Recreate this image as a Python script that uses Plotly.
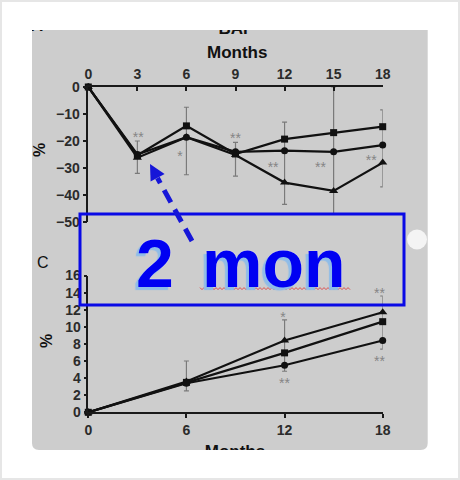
import plotly.graph_objects as go

W, H = 460, 480

# ---------------- data ----------------
months_a = [0, 3, 6, 9, 12, 15, 18]
bap_square = [0, -25.3, -14.4, -24.8, -19.3, -16.9, -14.7]
bap_circle = [0, -25.0, -18.6, -24.0, -23.6, -24.0, -21.5]
bap_triangle = [0, -26.2, -18.6, -25.2, -35.4, -38.5, -28.0]

err_months_a = [3, 6, 9, 12, 15, 18]
err_hi_a = [-20.0, -7.5, -20.5, -13.0, 0.0, -8.5]
err_lo_a = [-32.0, -32.5, -33.0, -43.5, -47.0, -37.0]

star_a_x = [3.05, 5.6, 9.0, 11.3, 14.2, 17.3]
star_a_y = [-19.2, -26.1, -19.6, -30.3, -30.3, -27.6]
star_a_txt = ["**", "*", "**", "**", "**", "**"]

months_c = [0, 6, 12, 18]
c_triangle = [0, 3.6, 8.4, 11.7]
c_square = [0, 3.5, 6.95, 10.6]
c_circle = [0, 3.4, 5.5, 8.4]

err_months_c = [6, 12, 18]
err_hi_c = [6.0, 10.8, 13.6]
err_lo_c = [2.5, 4.8, 7.4]

star_c_x = [11.9, 12.0, 17.8, 18.5, 17.8]
star_c_y = [11.0, 3.2, 13.8, 9.6, 5.8]
star_c_txt = ["*", "**", "**", "*", "**"]

ticks_a_x = [0, 3, 6, 9, 12, 15, 18]
ticks_a_y = [0, -10, -20, -30, -40, -50]
ticks_c_x = [0, 6, 12, 18]
ticks_c_y = [0, 2, 4, 6, 8, 10, 12, 14, 16]

FONT = "Liberation Sans, Arial, sans-serif"


def px(x):
    return x / W


def py(y):
    return 1 - y / H


fig = go.Figure()

line_style = dict(color="#111111", width=2.2)


def add_series(xs, ys, symbol, size, xa, ya):
    fig.add_trace(go.Scatter(
        x=xs, y=ys, mode="lines+markers", xaxis=xa, yaxis=ya,
        line=line_style, cliponaxis=False,
        marker=dict(symbol=symbol, size=size, color="#111111"),
        showlegend=False, hoverinfo="skip"))


def add_err(xs, hi, lo, xa, ya):
    fig.add_trace(go.Scatter(
        x=xs, y=hi, mode="markers", xaxis=xa, yaxis=ya,
        marker=dict(size=1, color="rgba(0,0,0,0)"), cliponaxis=False,
        error_y=dict(type="data", symmetric=False,
                     array=[0] * len(xs),
                     arrayminus=[h - l for h, l in zip(hi, lo)],
                     color="#7a7a7a", thickness=1.2, width=2.5),
        showlegend=False, hoverinfo="skip"))


def add_stars(xs, ys, txt, xa, ya):
    fig.add_trace(go.Scatter(
        x=xs, y=ys, text=txt, mode="text", xaxis=xa, yaxis=ya,
        textfont=dict(family=FONT, size=14, color="#858585"),
        cliponaxis=False, showlegend=False, hoverinfo="skip"))


# upper chart (BAP)
add_err(err_months_a, err_hi_a, err_lo_a, "x", "y")
add_series(months_a, bap_square, "square", 7, "x", "y")
add_series(months_a, bap_circle, "circle", 7, "x", "y")
add_series(months_a, bap_triangle, "triangle-up", 8, "x", "y")
add_stars(star_a_x, star_a_y, star_a_txt, "x", "y")

# lower chart
add_err(err_months_c, err_hi_c, err_lo_c, "x2", "y2")
add_series(months_c, c_triangle, "triangle-up", 8, "x2", "y2")
add_series(months_c, c_square, "square", 7, "x2", "y2")
add_series(months_c, c_circle, "circle", 7, "x2", "y2")
add_stars(star_c_x, star_c_y, star_c_txt, "x2", "y2")

# clipped titles at the slide edges
fig.add_trace(go.Scatter(
    x=[236.5, 235, 37], y=[29.5, 452.5, 26.5], text=["BAP", "Months", "A"],
    mode="text", xaxis="x3", yaxis="y3", cliponaxis=True,
    textfont=dict(family=FONT, size=17, color="#111111", weight="bold"),
    showlegend=False, hoverinfo="skip"))

tickfont = dict(family=FONT, size=14, color="#2b2b2b", weight="bold")
xdom = [px(88.3), px(382.7)]

common_axis = dict(showgrid=False, zeroline=False, showline=True,
                   linecolor="#1a1a1a", tickcolor="#1a1a1a",
                   tickfont=tickfont, automargin=False, fixedrange=True)

fig.update_layout(
    width=W, height=H, template="none",
    margin=dict(l=0, r=0, t=0, b=0, pad=0),
    paper_bgcolor="white", plot_bgcolor="rgba(0,0,0,0)",
    xaxis=dict(domain=xdom, range=[0, 18], anchor="y", side="top",
               tickmode="array", tickvals=ticks_a_x, ticks="inside",
               ticklen=4, tickwidth=2, linewidth=2, **common_axis),
    yaxis=dict(domain=[py(222), py(87)], range=[-50, 0], anchor="x",
               tickmode="array", tickvals=ticks_a_y, ticks="outside",
               ticklen=4, tickwidth=1.5, linewidth=1.5, **common_axis),
    xaxis2=dict(domain=xdom, range=[0, 18], anchor="y2",
                tickmode="array", tickvals=ticks_c_x, ticks="outside",
                ticklen=4, tickwidth=2, linewidth=2, **common_axis),
    yaxis2=dict(domain=[py(412.3), py(275.5)], range=[0, 16], anchor="x2",
                tickmode="array", tickvals=ticks_c_y, ticks="outside",
                ticklen=3, tickwidth=1.5, linewidth=1.5, **common_axis),
    xaxis3=dict(domain=[px(32), px(427.7)], range=[32, 427.7],
                anchor="y3", visible=False, fixedrange=True),
    yaxis3=dict(domain=[py(450), py(30)], range=[450, 30],
                anchor="x3", visible=False, fixedrange=True),
)

# ---------------- shapes ----------------
shapes = []
# outer frame
shapes.append(dict(type="rect", xref="paper", yref="paper", layer="below",
                   x0=0, x1=1, y0=0, y1=1, fillcolor="#e6e6e6", line_width=0))
shapes.append(dict(type="rect", xref="paper", yref="paper", layer="below",
                   x0=px(2), x1=px(458), y0=py(478), y1=py(2),
                   fillcolor="white", line_width=0))
# slide panel with rounded bottom corners
r = 7
L, R, T, B = 32, 427.7, 30, 450
panel = (f"M {px(L)},{py(T)} L {px(R)},{py(T)} L {px(R)},{py(B - r)} "
         f"Q {px(R)},{py(B)} {px(R - r)},{py(B)} L {px(L + r)},{py(B)} "
         f"Q {px(L)},{py(B)} {px(L)},{py(B - r)} Z")
shapes.append(dict(type="path", path=panel, xref="paper", yref="paper",
                   layer="below", fillcolor="#cdcdcd", line_width=0))
# blue box
shapes.append(dict(type="rect", xref="paper", yref="paper", layer="above",
                   x0=px(80), x1=px(404), y0=py(305), y1=py(214),
                   line=dict(color="#0a0ae6", width=3), fillcolor="rgba(0,0,0,0)"))
# dashed arrow
shapes.append(dict(type="line", xref="paper", yref="paper", layer="above",
                   x0=px(192), y0=py(241), x1=px(157.5), y1=py(178),
                   line=dict(color="#1616d8", width=5, dash="14px,8px")))
tip = (150, 164)
c1 = (164.6, 173.9)
c2 = (150.6, 181.5)
head = (f"M {px(tip[0])},{py(tip[1])} L {px(c1[0])},{py(c1[1])} "
        f"L {px(c2[0])},{py(c2[1])} Z")
shapes.append(dict(type="path", path=head, xref="paper", yref="paper",
                   layer="above", fillcolor="#1616d8", line_width=0))
# white handle circle
shapes.append(dict(type="circle", xref="paper", yref="paper", layer="above",
                   x0=px(407), x1=px(427), y0=py(249.5), y1=py(229.5),
                   fillcolor="#f4f4f4", line_width=0))
# red spell-check squiggle under "mon"
pts = []
xw = 200
k = 0
while xw <= 350:
    pts.append((xw, 287.6 if k % 2 == 0 else 289.6))
    xw += 2
    k += 1
sq = "M " + " L ".join(f"{px(a)},{py(b)}" for a, b in pts)
shapes.append(dict(type="path", path=sq, xref="paper", yref="paper",
                   layer="above", line=dict(color="#e03030", width=0.8)))
fig.update_layout(shapes=shapes)

# ---------------- annotations ----------------
ann = []
ann.append(dict(text="Months", x=px(236.7), y=py(53), xref="paper", yref="paper",
                showarrow=False, xanchor="center", yanchor="middle",
                font=dict(family=FONT, size=17, color="#111111", weight="bold")))
ann.append(dict(text="%", x=px(39), y=py(150), xref="paper", yref="paper",
                showarrow=False, textangle=-90, xanchor="center", yanchor="middle",
                font=dict(family=FONT, size=16, color="#111111", weight="bold")))
ann.append(dict(text="%", x=px(46), y=py(341), xref="paper", yref="paper",
                showarrow=False, textangle=-90, xanchor="center", yanchor="middle",
                font=dict(family=FONT, size=16, color="#111111", weight="bold")))
ann.append(dict(text="C", x=px(43), y=py(262), xref="paper", yref="paper",
                showarrow=False, xanchor="center", yanchor="middle",
                font=dict(family=FONT, size=16, color="#111111")))
big = dict(family=FONT, size=68, color="#0000f2", weight="bold",
           shadow="-3px 3px 1px #8fbce8, 0px 0px 1px #ffffff")
ann.append(dict(text="2", x=px(155), y=py(263), xref="paper", yref="paper",
                showarrow=False, xanchor="center", yanchor="middle", font=big))
ann.append(dict(text="mon", x=px(273.5), y=py(263), xref="paper", yref="paper",
                showarrow=False, xanchor="center", yanchor="middle", font=big))
fig.update_layout(annotations=ann)

fig.write_html("out.html", config={"displayModeBar": False},
               post_script="document.body.style.margin='0';")
